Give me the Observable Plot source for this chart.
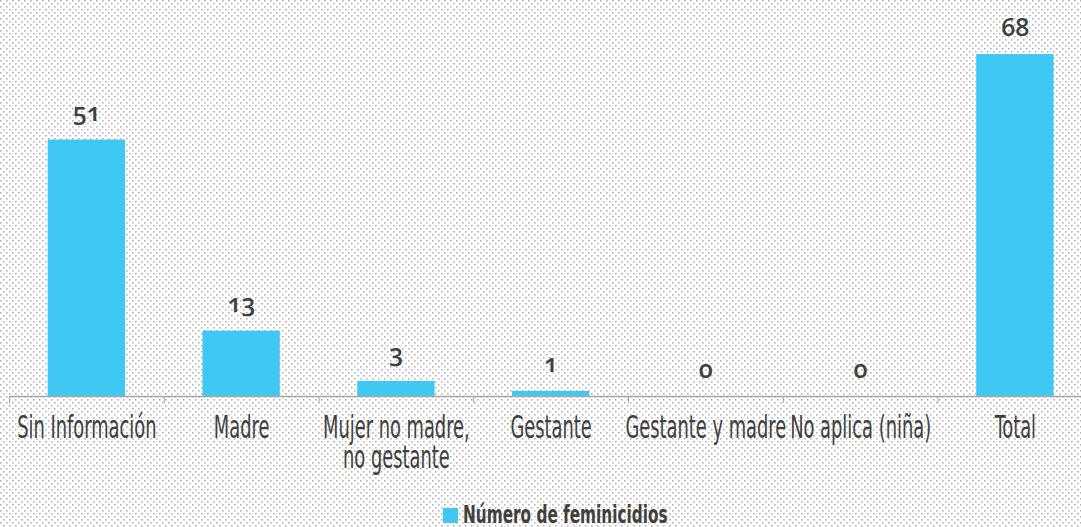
<!DOCTYPE html>
<html>
<head>
<meta charset="utf-8">
<script src="https://cdn.jsdelivr.net/npm/d3@7"></script>
<script src="https://cdn.jsdelivr.net/npm/@observablehq/plot@0.6"></script>
<style>
  html, body { margin: 0; padding: 0; }
  body {
    width: 1081px; height: 527px; overflow: hidden;
    background-color: #ffffff;
    background-image: url("data:image/svg+xml,%3Csvg xmlns='http://www.w3.org/2000/svg' width='6' height='6'%3E%3Crect x='0' y='0' width='1.6' height='1.6' fill='%23b4b4b4'/%3E%3Crect x='3' y='3' width='1.6' height='1.6' fill='%23b4b4b4'/%3E%3C/svg%3E");
  }
  #wrap { position: relative; width: 1081px; height: 527px; }
  #legend {
    position: absolute; left: 443px; top: 502px;
    display: flex; align-items: center;
    font-family: "DejaVu Sans Condensed", "Liberation Sans Narrow", sans-serif;
    font-weight: bold; font-size: 21px; color: #404040;
  }
  #legend .sw { width: 15px; height: 15px; background: #40c8f4; margin-right: 5px; margin-top: 3px; }
  #legend .lbl { display: inline-block; transform: scale(0.81, 1.22); transform-origin: left center; white-space: nowrap; }
</style>
</head>
<body>
<div id="wrap">
  <div id="chart"></div>
  <div id="legend"><span class="sw"></span><span class="lbl">Número de feminicidios</span></div>
</div>
<script>
const categories = ["Sin Información", "Madre", "Mujer no madre,\nno gestante", "Gestante", "Gestante y madre", "No aplica (niña)", "Total"];
const values = [51, 13, 3, 1, 0, 0, 68];
const seriesName = "Número de feminicidios";

const data = categories.map((c, i) => ({category: c, value: values[i]}));

const W = 1081, H = 480;
const x0 = 9, x1 = 1092.25;
const step = (x1 - x0) / categories.length;
const barColor = "#40c8f4";

const chart = Plot.plot({
  width: W,
  height: H,
  marginLeft: 9,
  marginRight: 0,
  marginTop: 54,
  marginBottom: 84,
  style: {background: "transparent", overflow: "visible"},
  x: {domain: categories, range: [x0, x1], padding: 0, round: false, label: null},
  y: {domain: [0, 68], range: [396, 54], axis: null},
  marks: [
    Plot.barY(data, {x: "category", y: "value", fill: barColor, insetLeft: step / 4, insetRight: step / 4}),
    Plot.ruleY([0], {stroke: "#a6a6a6", strokeWidth: 1.5}),
    Plot.axisX({tickSize: 7, tickFormat: () => "", dx: -step / 2, stroke: "#a6a6a6", label: null}),
    Plot.axisX({
      tickSize: 0, tickPadding: 20, label: null,
      fontSize: 24.5, lineHeight: 0.93,
      fill: "#404040",
      fontFamily: "DejaVu Sans Condensed, Liberation Sans Narrow, sans-serif"
    }),
    Plot.text(data, {
      x: "category", y: "value", text: d => String(d.value),
      lineAnchor: "bottom", dy: -19,
      fontSize: 25, fontWeight: 600, fill: "#404040",
      fontFamily: "Open Sans, Lato, sans-serif"
    })
  ]
});

// condense and stretch category labels around their own anchor
const SX = 0.81, SY = 1.31;
chart.querySelectorAll('g[aria-label="x-axis tick label"] text').forEach(t => {
  const tr = t.getAttribute("transform") || "";
  const m = /translate\(\s*([-\d.]+)\s*,?\s*([-\d.]+)\s*\)/.exec(tr);
  if (!m) return;
  const cx = +m[1], cy = +m[2];
  const wrapper = document.createElementNS("http://www.w3.org/2000/svg", "g");
  wrapper.setAttribute("transform", `translate(${cx},${cy}) scale(${SX},${SY}) translate(${-cx},${-cy})`);
  t.parentNode.insertBefore(wrapper, t);
  wrapper.appendChild(t);
});
chart.querySelectorAll("text").forEach(t => {
  t.style.fontVariantNumeric = "oldstyle-nums";
});

document.getElementById("chart").appendChild(chart);
</script>
</body>
</html>
